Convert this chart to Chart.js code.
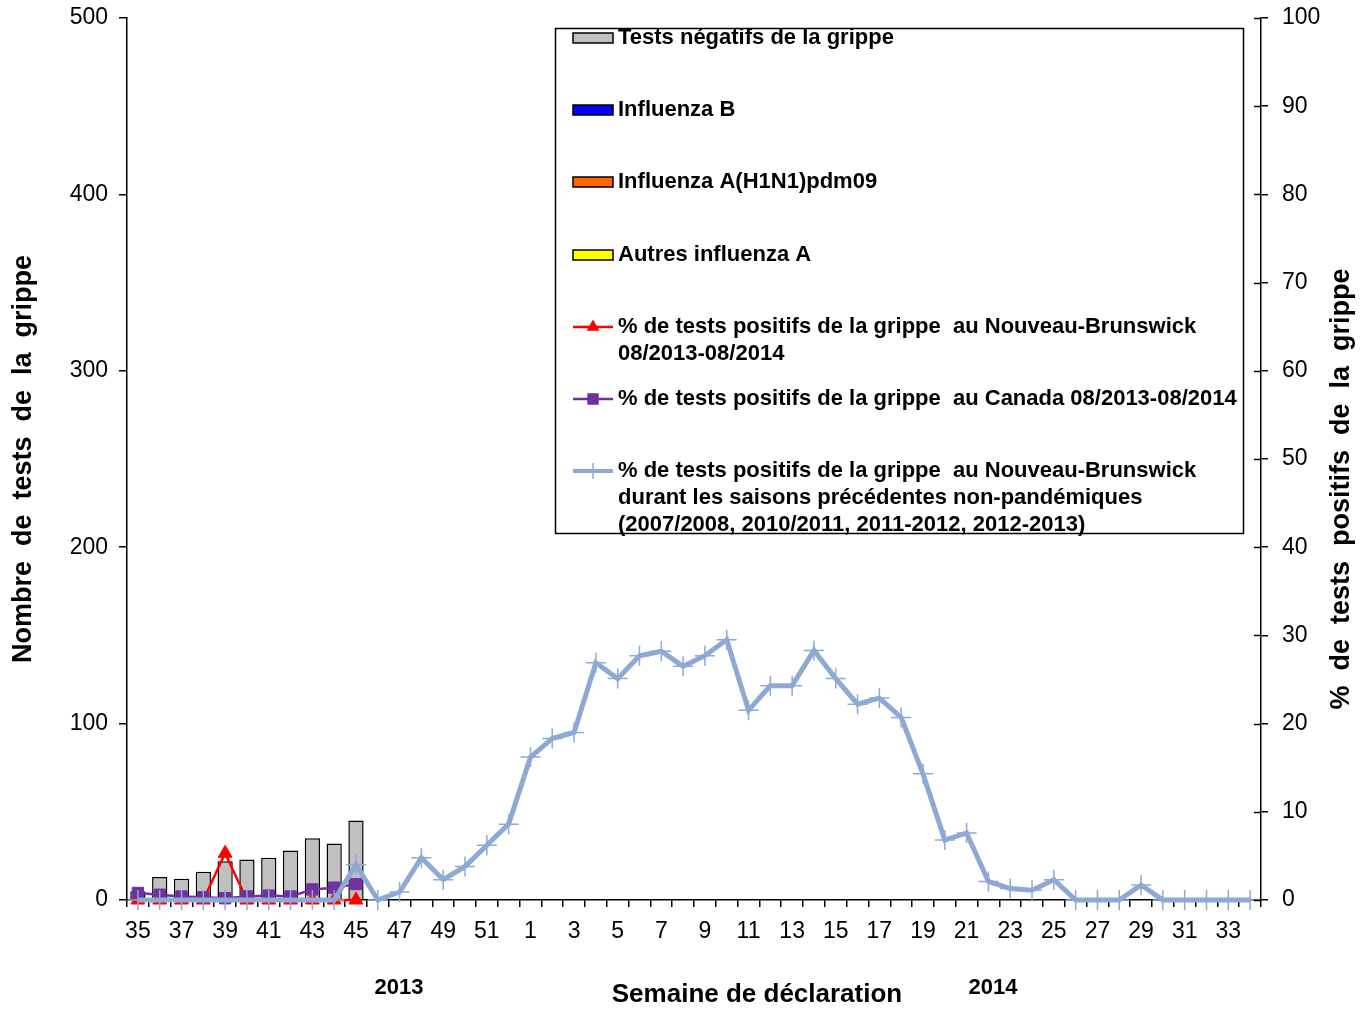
<!DOCTYPE html>
<html>
<head>
<meta charset="utf-8">
<script src="https://cdn.jsdelivr.net/npm/chart.js@4.4.1/dist/chart.umd.min.js"></script>
<style>
html,body{margin:0;padding:0;background:#fff;}
#wrap{width:1372px;height:1011px;position:relative;}
</style>
</head>
<body>
<div id="wrap"><canvas id="c" width="1372" height="1011"></canvas></div>
<script>
// ---------- DATA ----------
const weeks = [35,36,37,38,39,40,41,42,43,44,45,46,47,48,49,50,51,52,
  1,2,3,4,5,6,7,8,9,10,11,12,13,14,15,16,17,18,19,20,21,22,23,24,25,26,27,28,29,30,31,32,33,34];
const negativeTests = [5,13,12,16,22,23,24,28,35,32,45];
const influenzaB = [0,0,0,0,0,0,0,0,0,0,0];
const influenzaAH1N1 = [0,0,0,0,0,0,0,0,0,0,0];
const otherInfluenzaA = [0,0,0,0,0,0,0,0,0,0,0];
const pctNB = [0,0,0,0,5.3,0,0,0,0,0,0];
const pctCanada = [0.8,0.6,0.4,0.3,0.2,0.4,0.5,0.4,1.2,1.4,1.8];
const pctPrevSeasons = [0,0,0,0,0,0,0,0,0,0,4.0,
  0,0.9,4.8,2.3,3.8,6.2,8.6,
  16.2,18.3,19.0,26.9,25.1,27.7,28.2,26.5,27.7,29.5,
  21.5,24.3,24.3,28.3,25.1,22.2,22.9,20.7,14.3,6.8,
  7.6,2.1,1.3,1.1,2.3,0,0,0,1.7,0,
  0,0,0,0];
const leftTicks = [0,100,200,300,400,500];
const rightTicks = [0,10,20,30,40,50,60,70,80,90,100];
const yearLabels = ['2013','2014'];
const xTitle = 'Semaine de déclaration';
const yTitle = 'Nombre  de  tests  de  la  grippe';
const y1Title = '%  de  tests  positifs  de  la  grippe';
const legendLabels = [
  ['Tests négatifs de la grippe'],
  ['Influenza B'],
  ['Influenza A(H1N1)pdm09'],
  ['Autres influenza A'],
  ['% de tests positifs de la grippe  au Nouveau-Brunswick','08/2013-08/2014'],
  ['% de tests positifs de la grippe  au Canada 08/2013-08/2014'],
  ['% de tests positifs de la grippe  au Nouveau-Brunswick','durant les saisons précédentes non-pandémiques','(2007/2008, 2010/2011, 2011-2012, 2012-2013)']
];

const FONT = '"Liberation Sans", Arial, sans-serif';
Chart.defaults.font.family = FONT;
Chart.defaults.color = '#000';

const barCommon = {type:'bar', yAxisID:'y', stack:'s', borderColor:'#000', borderWidth:1.5,
  barPercentage:0.7, categoryPercentage:1.0};

const datasets = [
  Object.assign({}, barCommon, {label:legendLabels[0].join(' '), data:negativeTests, backgroundColor:'#C0C0C0', order:10}),
  Object.assign({}, barCommon, {label:legendLabels[1].join(' '), data:influenzaB, backgroundColor:'#0000FF', borderWidth:0, order:9}),
  Object.assign({}, barCommon, {label:legendLabels[2].join(' '), data:influenzaAH1N1, backgroundColor:'#FF6600', borderWidth:0, order:8}),
  Object.assign({}, barCommon, {label:legendLabels[3].join(' '), data:otherInfluenzaA, backgroundColor:'#FFFF00', borderWidth:0, order:7}),
  {type:'line', label:legendLabels[4].join(' '), data:pctNB, yAxisID:'y1', borderColor:'#FF0000', backgroundColor:'#FF0000',
    borderWidth:2.5, pointStyle:'triangle', pointRadius:8, pointBorderWidth:1, pointBackgroundColor:'#FF0000', pointBorderColor:'#FF0000', tension:0, clip:false, order:3},
  {type:'line', label:legendLabels[5].join(' '), data:pctCanada, yAxisID:'y1', borderColor:'#7030A0', backgroundColor:'#7030A0',
    borderWidth:2.5, pointStyle:'rect', pointRadius:8, pointBorderWidth:1, pointBackgroundColor:'#7030A0', pointBorderColor:'#7030A0', tension:0, clip:false, order:2},
  {type:'line', label:legendLabels[6].join(' '), data:pctPrevSeasons, yAxisID:'y1', borderColor:'#8EA9D3', backgroundColor:'#8EA9D3',
    borderWidth:5, pointStyle:'cross', pointRadius:10, pointBorderWidth:1.5, pointBorderColor:'#8EA9D3', tension:0, clip:false, order:1}
];

const extras = {
  id:'extras',
  afterDraw(chart){
    const ctx = chart.ctx;
    const y1 = chart.scales.y1;
    const area = chart.chartArea;
    ctx.save();
    // inner half of right-axis tick marks
    ctx.strokeStyle = '#000'; ctx.lineWidth = 1.5;
    rightTicks.forEach(v => {
      const py = Math.round(y1.getPixelForValue(v)) + 0.5;
      ctx.beginPath(); ctx.moveTo(area.right - 7, py); ctx.lineTo(area.right, py); ctx.stroke();
    });
    // titles
    ctx.fillStyle = '#000';
    ctx.textAlign = 'center'; ctx.textBaseline = 'middle';
    ctx.font = 'bold 26px ' + FONT;
    ctx.fillText(xTitle, 757, 995);
    ctx.font = 'bold 22px ' + FONT;
    ctx.fillText(yearLabels[0], 399, 988);
    ctx.fillText(yearLabels[1], 993, 988);
    ctx.save();
    ctx.translate(1342, 489); ctx.rotate(-Math.PI/2);
    ctx.font = 'bold 27px ' + FONT;
    ctx.fillText(y1Title, 0, 0);
    ctx.restore();
    // legend box
    ctx.fillStyle = '#fff';
    ctx.fillRect(555, 28, 688, 505);
    ctx.strokeStyle = '#000'; ctx.lineWidth = 1.5;
    ctx.strokeRect(555.5, 28.5, 688, 505);
    const ys = [38,110,182,255,327,399,471];
    ctx.font = 'bold 22px ' + FONT;
    ctx.textAlign = 'left';
    chart.data.datasets.forEach((ds, i) => {
      const cy = ys[i];
      if (ds.type === 'bar') {
        ctx.fillStyle = ds.backgroundColor;
        ctx.fillRect(573, cy - 5, 40, 10);
        ctx.strokeStyle = '#000'; ctx.lineWidth = 1.5;
        ctx.strokeRect(573, cy - 5, 40, 10);
      } else {
        ctx.strokeStyle = ds.borderColor; ctx.lineWidth = i===6 ? 4 : 2.5;
        ctx.beginPath(); ctx.moveTo(573, cy); ctx.lineTo(613, cy); ctx.stroke();
        ctx.fillStyle = ds.borderColor;
        ctx.lineWidth = 1.5;
        Chart.helpers.drawPoint(ctx, {pointStyle: ds.pointStyle, radius: i===6 ? 8 : (i===5 ? 7 : 6), borderWidth: 1}, 593, cy);
      }
      ctx.fillStyle = '#000';
      legendLabels[i].forEach((line, k) => ctx.fillText(line, 618, cy + k*27));
    });
    ctx.restore();
  }
};

new Chart(document.getElementById('c'), {
  data: {labels: weeks, datasets},
  options: {
    responsive:false, animation:false, devicePixelRatio:1,
    layout:{padding:{top:18, left:0, right:0, bottom:0}},
    plugins:{legend:{display:false}, tooltip:{enabled:false}},
    scales:{
      x:{
        stacked:true, offset:true,
        grid:{display:true, drawOnChartArea:false, drawTicks:true, tickLength:7, color:'#000', lineWidth:1.5, offset:true},
        border:{display:true, color:'#000', width:1.5},
        ticks:{autoSkip:false, maxRotation:0, minRotation:0, padding:11, font:{size:23},
          callback:(v, i) => i % 2 === 0 ? String(weeks[i]) : ''},
        afterFit:(s) => { s.height = 111; s.paddingLeft = 0; s.paddingRight = 0; }
      },
      y:{
        position:'left', stacked:true, min:0, max:500,
        afterBuildTicks:(s) => { s.ticks = leftTicks.map(v => ({value:v})); },
        grid:{drawOnChartArea:false, drawTicks:true, tickLength:8, color:'#000', lineWidth:1.5},
        border:{display:true, color:'#000', width:1.5},
        ticks:{padding:11, font:{size:23}},
        title:{display:true, text:yTitle, font:{size:27, weight:'bold'}, padding:{top:7, bottom:0}},
        afterFit:(s) => { s.width = 127; s.paddingTop = 0; s.paddingBottom = 0; }
      },
      y1:{
        position:'right', min:0, max:100,
        afterBuildTicks:(s) => { s.ticks = rightTicks.map(v => ({value:v})); },
        grid:{drawOnChartArea:false, drawTicks:true, tickLength:7, color:'#000', lineWidth:1.5},
        border:{display:true, color:'#000', width:1.5},
        ticks:{padding:14, font:{size:23}},
        afterFit:(s) => { s.width = 111; s.paddingTop = 0; s.paddingBottom = 0; }
      }
    }
  },
  plugins:[extras]
});
</script>
</body>
</html>
